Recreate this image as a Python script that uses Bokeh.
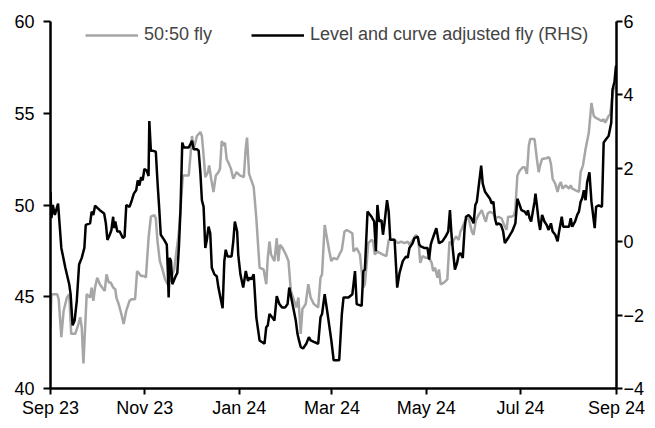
import pandas as pd
from bokeh.plotting import figure
from bokeh.models import (ColumnDataSource, Range1d, LinearAxis, FixedTicker,
                          DatetimeTickFormatter, Legend, LegendItem)
from bokeh.embed import file_html
from bokeh.resources import INLINE

# ---------------- data ----------------
start_date = "2023-09-01"
end_date = "2024-09-01"
tick_dates = ["2023-09-01", "2023-11-01", "2024-01-01", "2024-03-01",
              "2024-05-01", "2024-07-01", "2024-09-01"]
tick_labels = ["Sep 23", "Nov 23", "Jan 24", "Mar 24", "May 24", "Jul 24", "Sep 24"]
left_ticks = [40, 45, 50, 55, 60]
right_ticks = [-4, -2, 0, 2, 4, 6]

series_names = ["50:50 fly", "Level and curve adjusted fly (RHS)"]

# 50:50 fly (LHS) : day offset from start, value
fly_days = [0, 0.6, 4.3, 5.3, 7.0, 8.5, 10.6, 12.1, 13.4, 16.0, 18.1, 19.2, 20.2, 21.3, 22.4, 23.4,
            25.6, 26.6, 27.7, 28.8, 30.2, 31.9, 33.4, 35.1, 36.2, 37.7, 39.0, 40.5, 41.9, 42.6,
            44.1, 45.8, 47.3, 49.0, 51.1, 52.6, 54.7, 56.0, 58.6, 60.7, 61.7, 63.4, 64.9, 67.1,
            68.1, 69.2, 70.7, 72.4, 74.1, 75.6, 77.5, 80.0, 83.0, 85.6, 89.4, 90.5, 91.5, 92.6,
            94.7, 96.9, 97.9, 99.0, 100.1, 101.8, 102.6, 103.9, 105.4, 106.9, 108.6, 109.6,
            110.7, 111.8, 112.8, 113.9, 115.4, 116.7, 118.2, 119.2, 120.3, 122.4, 125.0, 126.3,
            127.1, 128.4, 129.9, 131.4, 133.1, 135.2, 137.8, 139.5, 140.5, 141.6, 142.6, 144.8,
            146.3, 147.3, 148.4, 150.1, 152.2, 153.9, 155.4, 157.6, 159.0, 160.3, 161.8, 162.9,
            165.0, 166.7, 168.2, 170.3, 173.1, 174.6, 175.6, 177.3, 178.8, 180.3, 181.6, 183.1,
            185.2, 188.4, 190.1, 191.6, 195.2, 195.9, 198.0, 200.1, 202.3, 203.3, 204.4, 205.5,
            207.6, 208.6, 209.7, 211.2, 212.9, 215.0, 217.2, 218.7, 222.5, 224.6, 226.7, 228.9,
            231.0, 232.1, 234.2, 236.3, 237.8, 239.1, 240.6, 242.7, 244.8, 246.5, 247.4, 248.7,
            250.2, 251.2, 252.3, 254.4, 256.6, 258.0, 259.7, 260.8, 262.3, 264.0, 265.1, 266.1,
            267.8, 269.3, 270.4, 272.5, 273.6, 275.1, 276.8, 278.9, 280.6, 281.5, 282.7, 284.2,
            286.4, 287.9, 289.6, 291.7, 293.8, 294.9, 295.9, 298.1, 299.8, 300.6, 301.9, 303.4,
            305.5, 306.6, 308.1, 309.3, 310.2, 313.0, 314.5, 315.7, 316.6, 317.9, 320.4, 322.5,
            323.6, 324.7, 326.4, 327.9, 328.9, 330.0, 331.1, 333.2, 335.3, 336.4, 337.4, 339.6,
            341.7, 342.8, 344.3, 346.0, 348.1, 349.8, 351.3, 352.4, 354.5, 356.2, 357.7, 358.7,
            359.8, 360.9, 361.9, 363.0, 364.1, 365.1, 366.0]
fly_vals = [43.34, 45.14, 45.14, 44.87, 42.80, 44.24, 44.96, 45.14, 42.98, 42.98, 43.52, 43.88,
            43.34, 41.37, 43.34, 45.14, 44.96, 45.50, 44.78, 45.50, 46.04, 45.68, 45.50, 45.32,
            46.22, 45.77, 45.77, 45.50, 45.41, 44.96, 44.60, 44.06, 43.52, 44.24, 44.78, 44.87,
            44.87, 46.40, 46.13, 46.13, 46.04, 48.19, 49.36, 49.45, 49.27, 48.01, 46.94, 46.49,
            45.95, 45.68, 45.90, 46.50, 48.50, 51.61, 51.61, 52.69, 53.76, 53.05, 53.76, 53.98,
            53.76, 52.69, 51.52, 51.79, 52.15, 51.43, 50.71, 51.61, 51.79, 51.97, 53.49, 53.23,
            53.40, 52.51, 52.24, 51.97, 51.43, 51.61, 51.79, 51.61, 51.52, 53.14, 53.67, 51.70,
            51.34, 50.98, 49.27, 46.58, 46.49, 45.68, 47.12, 48.01, 47.30, 46.94, 48.19, 46.94,
            47.83, 47.65, 47.30, 46.94, 45.32, 44.78, 44.42, 44.96, 42.98, 44.33, 44.60, 45.68,
            44.96, 44.60, 44.42, 46.04, 46.22, 48.91, 48.19, 47.48, 46.94, 47.12, 47.03, 47.56,
            48.55, 48.64, 48.46, 47.47, 47.65, 47.30, 45.50, 45.68, 46.76, 47.92, 48.10, 48.01,
            47.30, 47.47, 47.39, 47.30, 47.21, 48.10, 48.10, 47.92, 48.01, 47.92, 48.01, 47.83,
            48.10, 48.37, 48.19, 46.85, 47.21, 47.12, 47.12, 46.85, 46.40, 46.58, 46.04, 46.49,
            45.68, 45.77, 45.95, 48.01, 47.83, 48.10, 48.28, 48.10, 48.55, 48.73, 49.09, 49.27,
            49.27, 48.55, 48.37, 49.18, 49.45, 49.72, 49.27, 49.09, 49.54, 49.63, 49.54, 49.27,
            49.36, 49.27, 48.82, 48.64, 49.36, 49.36, 49.45, 49.81, 51.61, 51.88, 52.06, 52.06,
            51.70, 53.23, 53.59, 53.59, 52.51, 51.79, 52.15, 52.51, 52.55, 52.60, 52.24, 51.43,
            51.16, 50.71, 51.07, 51.25, 50.89, 51.07, 50.89, 51.07, 50.89, 50.80, 50.71, 51.79,
            52.15, 53.05, 53.95, 55.56, 54.85, 54.76, 54.67, 54.58, 54.67, 54.49, 54.67, 54.85,
            54.94, 55.74, 56.28, 56.37, 56.46]

# Level and curve adjusted fly (RHS)
adj_days = [0, 0.6, 1.5, 2.8, 4.9, 7.0, 9.6, 12.1, 13.0, 14.3, 15.6, 17.0, 18.5, 20.2, 21.9, 22.8,
            25.6, 26.6, 27.7, 28.8, 31.9, 34.7, 35.8, 36.8, 38.3, 39.4, 40.5, 41.1, 41.9, 43.2,
            44.7, 46.8, 47.9, 49.0, 51.1, 52.6, 53.9, 55.4, 56.4, 57.5, 58.6, 59.6, 60.7, 62.2,
            63.4, 63.9, 64.9, 66.0, 68.1, 69.2, 70.3, 71.3, 73.5, 75.2, 75.8, 76.4, 77.1, 77.9,
            78.8, 80.5, 82.0, 83.0, 84.1, 85.2, 86.2, 89.4, 90.5, 91.5, 92.6, 94.7, 95.8, 96.9,
            97.9, 99.0, 100.1, 101.1, 102.2, 103.3, 104.3, 106.0, 107.5, 108.6, 110.3, 111.3,
            112.4, 113.3, 114.5, 117.1, 118.2, 119.2, 120.7, 121.4, 122.8, 124.6, 126.3, 127.7,
            128.8, 129.9, 131.4, 133.1, 135.2, 138.4, 139.5, 140.5, 141.6, 143.3, 144.8, 146.3,
            148.0, 149.7, 151.8, 153.3, 154.4, 156.5, 158.6, 159.7, 160.7, 161.8, 163.3, 165.4,
            167.1, 168.2, 170.3, 173.1, 174.6, 175.6, 177.3, 179.5, 181.6, 183.1, 186.7, 188.4,
            189.5, 192.7, 195.2, 196.9, 198.0, 201.2, 202.3, 203.3, 205.0, 207.6, 209.3, 210.4,
            211.4, 212.5, 214.0, 215.0, 216.1, 217.6, 218.7, 219.7, 222.5, 224.2, 225.7, 227.8,
            229.9, 231.0, 232.1, 234.2, 235.3, 237.4, 238.5, 239.5, 241.6, 243.8, 244.8, 245.9,
            246.5, 248.0, 249.5, 251.2, 253.4, 255.5, 257.2, 258.3, 259.3, 260.2, 261.5, 262.9,
            264.0, 265.1, 266.6, 267.8, 268.7, 270.4, 272.1, 273.6, 274.7, 275.7, 277.2, 278.5,
            279.5, 281.0, 282.7, 284.2, 285.3, 286.4, 287.4, 288.5, 289.6, 291.3, 292.7, 293.8,
            295.9, 298.5, 300.6, 301.9, 303.4, 304.5, 306.6, 308.1, 308.7, 309.8, 310.8, 311.9,
            313.0, 313.6, 314.5, 315.7, 316.6, 317.9, 319.4, 320.8, 322.1, 323.6, 324.7, 326.4,
            327.9, 328.9, 330.6, 331.5, 333.2, 335.3, 336.4, 337.4, 339.2, 340.6, 341.7, 342.8,
            343.8, 344.9, 346.0, 347.0, 348.5, 349.8, 350.6, 351.9, 352.8, 354.5, 356.6, 357.7,
            359.2, 360.9, 362.6, 363.4, 364.7, 365.6, 366.0]
adj_vals = [1.36, 0.64, 1.00, 0.73, 1.04, -0.17, -0.71, -1.16, -1.43, -2.28, -2.15, -1.61, -0.62,
            -0.44, -0.17, 0.46, 0.50, 0.82, 0.73, 0.98, 0.86, 0.77, 0.50, 0.05, 0.19, 0.32, 0.68,
            0.37, 0.55, 0.28, 0.28, 0.10, 0.14, 1.00, 0.95, 1.13, 1.31, 1.40, 1.67, 1.53, 1.76,
            1.67, 1.98, 1.94, 1.79, 3.29, 2.48, 2.48, 2.45, 1.62, 0.91, 0.19, 0.05, -0.08, -0.71,
            -1.52, -0.44, -0.53, -1.16, -0.98, -0.85, -0.17, 0.91, 2.70, 2.57, 2.57, 2.66, 2.75,
            2.52, 2.52, 2.48, 1.89, 1.13, 0.95, -0.17, 0.05, 0.41, 0.23, -0.71, -0.89, -0.94,
            -1.25, -1.61, -1.81, -0.53, -0.22, -0.40, -0.40, 0.01, 0.55, 0.28, -0.35, -0.89,
            -1.25, -0.80, -1.07, -0.98, -1.03, -0.89, -2.06, -2.69, -2.78, -2.33, -2.28, -1.97,
            -2.06, -2.15, -1.48, -1.70, -1.79, -1.79, -1.70, -1.25, -1.70, -2.15, -2.51, -2.69,
            -2.87, -2.91, -2.78, -2.60, -2.69, -2.73, -2.78, -2.06, -1.97, -1.43, -2.06, -2.69,
            -3.23, -3.23, -1.97, -1.52, -1.52, -1.43, -0.80, -1.70, -1.75, -0.80, -0.76, 0.82,
            0.68, 0.55, -0.26, 1.00, 0.55, 0.59, 0.19, 0.55, 1.13, 0.82, 0.05, 0.05, -1.25, -0.85,
            -0.53, -0.40, -0.44, -0.17, -0.04, 0.10, 0.14, -0.08, -0.13, -0.17, -0.17, -0.49,
            -0.08, 0.01, 0.19, 0.37, -0.04, 0.01, 0.14, 0.28, 0.86, 0.19, -0.22, -0.76, -0.58,
            -0.35, -0.31, -0.44, 0.37, 0.68, 0.73, 0.64, 0.50, 1.00, 1.09, 1.62, 2.07, 1.58, 1.36,
            1.26, 1.17, 1.04, 1.09, 0.64, 0.46, 0.50, 0.46, 0.28, -0.04, 0.10, 0.28, 0.50, 1.17,
            1.00, 0.86, 0.82, 0.73, 0.86, 0.64, 0.55, 0.82, 1.09, 1.31, 1.00, 0.55, 0.32, 0.73,
            0.55, 0.46, 0.32, 0.50, 0.28, 0.19, 0.01, 0.28, 0.68, 0.41, 0.41, 0.41, 0.64, 0.41,
            0.55, 0.73, 0.82, 1.09, 1.18, 1.40, 1.13, 1.62, 1.89, 1.09, 0.82, 0.37, 0.95, 0.99,
            0.95, 2.70, 2.79, 2.88, 3.24, 4.14, 4.36, 4.77, 4.79]

# ---------------- build ----------------
t0 = pd.Timestamp(start_date)
fly_src = ColumnDataSource(dict(x=t0 + pd.to_timedelta(fly_days, unit="D"), y=fly_vals))
adj_src = ColumnDataSource(dict(x=t0 + pd.to_timedelta(adj_days, unit="D"), y=adj_vals))

FONT = "Liberation Sans"
FS = "18px"

p = figure(width=647, height=420, x_axis_type="datetime", title=None,
           output_backend="svg", toolbar_location=None,
           x_range=Range1d(start=pd.Timestamp(start_date), end=pd.Timestamp(end_date)),
           y_range=Range1d(40, 60),
           min_border_left=50, min_border_right=23, min_border_top=21, min_border_bottom=28)
p.extra_y_ranges = {"rhs": Range1d(-4, 6)}
p.outline_line_color = None
p.grid.visible = False
p.background_fill_color = "white"
p.border_fill_color = "white"

r_fly = p.line("x", "y", source=fly_src, line_color="#A6A6A6", line_width=2.5)
r_adj = p.line("x", "y", source=adj_src, line_color="#000000", line_width=2.5,
               y_range_name="rhs")

rax = LinearAxis(y_range_name="rhs")
p.add_layout(rax, "right")

tick_ms = [pd.Timestamp(d).timestamp() * 1000 for d in tick_dates]
p.xaxis.ticker = FixedTicker(ticks=tick_ms)
p.xaxis.formatter = DatetimeTickFormatter(days="%b %y", months="%b %y", years="%b %y")
p.xaxis.major_label_overrides = {t: l for t, l in zip(tick_ms, tick_labels)}
p.yaxis[0].ticker = FixedTicker(ticks=left_ticks)
rax.ticker = FixedTicker(ticks=right_ticks)

for ax in [p.xaxis[0], p.yaxis[0], rax]:
    ax.axis_line_color = "black"
    ax.axis_line_width = 2.5
    ax.major_tick_line_color = "black"
    ax.major_tick_line_width = 2
    ax.major_tick_in = 0
    ax.major_tick_out = 7
    ax.minor_tick_line_color = None
    ax.major_label_text_font = FONT
    ax.major_label_text_font_size = FS
    ax.major_label_text_color = "black"
p.yaxis[0].major_label_standoff = 9
rax.major_label_standoff = 1
rax.major_tick_out = 6
p.xaxis[0].major_label_standoff = 3
p.xaxis[0].major_tick_out = 6

legend = Legend(items=[LegendItem(label=series_names[0], renderers=[r_fly]),
                       LegendItem(label=series_names[1], renderers=[r_adj])],
                orientation="horizontal", location=(35, 343),
                border_line_color=None, background_fill_alpha=0,
                padding=0, margin=0, spacing=39, glyph_width=53, glyph_height=20,
                label_standoff=6, label_height=20,
                label_text_font=FONT, label_text_font_size=FS)
p.add_layout(legend)

open("out.html", "w").write(file_html(p, INLINE))
